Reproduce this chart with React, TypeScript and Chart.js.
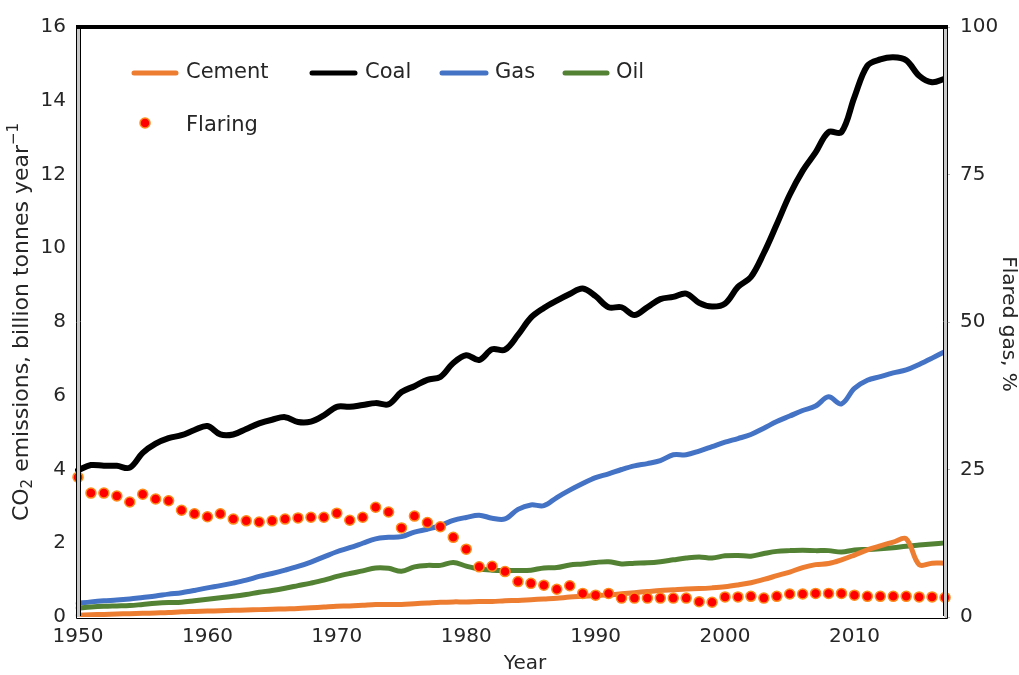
import React, { useEffect, useRef } from "react";
import { Chart, registerables } from "chart.js";
Chart.register(...registerables);

const YEARS = [
  1950, 1951, 1952, 1953, 1954, 1955, 1956, 1957, 1958, 1959,
  1960, 1961, 1962, 1963, 1964, 1965, 1966, 1967, 1968, 1969,
  1970, 1971, 1972, 1973, 1974, 1975, 1976, 1977, 1978, 1979,
  1980, 1981, 1982, 1983, 1984, 1985, 1986, 1987, 1988, 1989,
  1990, 1991, 1992, 1993, 1994, 1995, 1996, 1997, 1998, 1999,
  2000, 2001, 2002, 2003, 2004, 2005, 2006, 2007, 2008, 2009,
  2010, 2011, 2012, 2013, 2014, 2015, 2016, 2017,
];

const CEMENT = [
  0.05, 0.06, 0.07, 0.08, 0.09, 0.10, 0.11, 0.12, 0.14, 0.15,
  0.16, 0.17, 0.18, 0.19, 0.20, 0.21, 0.22, 0.23, 0.25, 0.27,
  0.29, 0.30, 0.32, 0.34, 0.34, 0.34, 0.36, 0.38, 0.40, 0.41,
  0.41, 0.42, 0.42, 0.44, 0.45, 0.47, 0.49, 0.51, 0.54, 0.56,
  0.58, 0.60, 0.63, 0.66, 0.69, 0.72, 0.74, 0.76, 0.77, 0.79,
  0.82, 0.87, 0.93, 1.02, 1.12, 1.22, 1.34, 1.42, 1.45, 1.55,
  1.68, 1.82, 1.93, 2.03, 2.12, 1.42, 1.46, 1.46,
];

const COAL = [
  3.98, 4.12, 4.10, 4.10, 4.05, 4.45, 4.70, 4.85, 4.93, 5.07,
  5.18, 4.95, 4.95, 5.10, 5.25, 5.35, 5.42, 5.29, 5.30, 5.47,
  5.70, 5.70, 5.75, 5.80, 5.77, 6.10, 6.26, 6.43, 6.51, 6.89,
  7.10, 6.97, 7.26, 7.25, 7.65, 8.12, 8.38, 8.58, 8.76, 8.91,
  8.70, 8.40, 8.40, 8.19, 8.40, 8.62, 8.68, 8.77, 8.52, 8.42,
  8.50, 8.95, 9.22, 9.87, 10.65, 11.45, 12.10, 12.60, 13.15, 13.15,
  14.10, 14.95, 15.12, 15.18, 15.10, 14.68, 14.50, 14.60,
];

const GAS = [
  0.37, 0.41, 0.44, 0.46, 0.49, 0.53, 0.57, 0.62, 0.66, 0.72,
  0.79, 0.85, 0.92, 1.00, 1.10, 1.18, 1.27, 1.37, 1.49, 1.63,
  1.77, 1.88, 2.00, 2.12, 2.16, 2.18, 2.30, 2.38, 2.48, 2.62,
  2.70, 2.76, 2.68, 2.66, 2.92, 3.04, 3.02, 3.24, 3.44, 3.62,
  3.78, 3.88, 4.00, 4.10, 4.16, 4.24, 4.40, 4.40, 4.50, 4.62,
  4.74, 4.84, 4.95, 5.12, 5.30, 5.45, 5.60, 5.72, 5.97, 5.78,
  6.20, 6.42, 6.52, 6.62, 6.70, 6.85, 7.02, 7.20,
];

const OIL = [
  0.24, 0.27, 0.29, 0.30, 0.31, 0.34, 0.37, 0.39, 0.40, 0.44,
  0.48, 0.52, 0.56, 0.61, 0.67, 0.72, 0.78, 0.85, 0.92, 1.00,
  1.10, 1.18, 1.25, 1.33, 1.32, 1.24, 1.36, 1.40, 1.40, 1.48,
  1.38, 1.30, 1.27, 1.26, 1.26, 1.27, 1.33, 1.34, 1.41, 1.44,
  1.48, 1.50, 1.44, 1.46, 1.47, 1.50, 1.55, 1.60, 1.63, 1.60,
  1.66, 1.67, 1.65, 1.72, 1.78, 1.80, 1.81, 1.80, 1.80, 1.76,
  1.82, 1.83, 1.85, 1.88, 1.92, 1.95, 1.98, 2.01,
];

const FLARING = [
  23.7, 21.0, 21.0, 20.5, 19.5, 20.8, 20.0, 19.7, 18.1, 17.5,
  17.0, 17.5, 16.6, 16.3, 16.1, 16.3, 16.6, 16.8, 16.9, 16.9,
  17.6, 16.4, 16.9, 18.6, 17.8, 15.1, 17.1, 16.0, 15.3, 13.5,
  11.5, 8.5, 8.6, 7.7, 6.0, 5.7, 5.4, 4.7, 5.3, 4.0,
  3.7, 4.0, 3.2, 3.2, 3.2, 3.2, 3.2, 3.2, 2.6, 2.5,
  3.4, 3.4, 3.5, 3.2, 3.5, 3.9, 3.9, 4.0, 4.0, 4.0,
  3.7, 3.5, 3.5, 3.5, 3.5, 3.4, 3.4, 3.3,
];

const X_TICK_YEARS = [1950, 1960, 1970, 1980, 1990, 2000, 2010];
const LEFT_MAX = 16;
const LEFT_STEP = 2;
const RIGHT_MAX = 100;
const RIGHT_STEP = 25;

const FONT = '"DejaVu Sans", Verdana, sans-serif';
const TEXT = "#262626";
const C_CEMENT = "#ED7D31";
const C_COAL = "#000000";
const C_GAS = "#4472C4";
const C_OIL = "#548235";
const C_FLARE = "#FF0000";
const C_FLARE_EDGE = "#FF8C1A";

export default function App() {
  const ref = useRef<HTMLCanvasElement>(null);

  useEffect(() => {
    document.body.style.margin = "0";
    const canvas = ref.current!;

    const overlay = {
      id: "overlay",
      afterDraw(chart: any) {
        const ctx = chart.ctx as CanvasRenderingContext2D;
        const a = chart.chartArea;
        ctx.save();
        // frame
        ctx.fillStyle = "#c8c8c8";
        ctx.fillRect(a.left - 1, a.top, 3, a.bottom - a.top);
        ctx.fillRect(a.right - 1, a.top, 3, a.bottom - a.top);
        ctx.strokeStyle = "#000";
        ctx.lineWidth = 1;
        ctx.beginPath();
        ctx.moveTo(a.left - 1.5, a.top);
        ctx.lineTo(a.left - 1.5, a.bottom + 1.5);
        ctx.lineTo(a.right + 2.5, a.bottom + 1.5);
        ctx.lineTo(a.right + 2.5, a.top);
        ctx.moveTo(a.left + 2.5, a.top);
        ctx.lineTo(a.left + 2.5, a.bottom - 1);
        ctx.moveTo(a.right - 1.5, a.top);
        ctx.lineTo(a.right - 1.5, a.bottom - 1);
        ctx.stroke();
        ctx.lineWidth = 4;
        ctx.beginPath();
        ctx.moveTo(a.left - 2, a.top);
        ctx.lineTo(a.right + 3, a.top);
        ctx.stroke();

        // legend
        ctx.font = `21px ${FONT}`;
        ctx.textBaseline = "middle";
        ctx.textAlign = "left";
        const items = [
          { c: C_CEMENT, x0: 134, x1: 176, tx: 186, label: "Cement" },
          { c: C_COAL, x0: 312, x1: 355, tx: 365, label: "Coal" },
          { c: C_GAS, x0: 442, x1: 486, tx: 495, label: "Gas" },
          { c: C_OIL, x0: 565, x1: 607, tx: 616, label: "Oil" },
        ];
        const ly = 73;
        for (const it of items) {
          ctx.strokeStyle = it.c;
          ctx.lineWidth = 5;
          ctx.lineCap = "round";
          ctx.beginPath();
          ctx.moveTo(it.x0, ly);
          ctx.lineTo(it.x1, ly);
          ctx.stroke();
          ctx.fillStyle = TEXT;
          ctx.fillText(it.label, it.tx, ly);
        }
        ctx.fillStyle = C_FLARE;
        ctx.strokeStyle = C_FLARE_EDGE;
        ctx.lineWidth = 1.5;
        ctx.beginPath();
        ctx.arc(145, 123, 5, 0, Math.PI * 2);
        ctx.fill();
        ctx.stroke();
        ctx.fillStyle = TEXT;
        ctx.fillText("Flaring", 186, 126);

        // left axis title with sub/superscript
        const big = `22px ${FONT}`;
        const small = `15px ${FONT}`;
        const parts = [
          { t: "CO", f: big, dy: 0 },
          { t: "2", f: small, dy: 6 },
          { t: " emissions, billion tonnes year", f: big, dy: 0 },
          { t: "\u22121", f: small, dy: -8 },
        ];
        let total = 0;
        for (const p of parts) {
          ctx.font = p.f;
          total += ctx.measureText(p.t).width;
        }
        ctx.save();
        ctx.translate(22, (a.top + a.bottom) / 2);
        ctx.rotate(-Math.PI / 2);
        ctx.textBaseline = "middle";
        let x = -total / 2;
        for (const p of parts) {
          ctx.font = p.f;
          ctx.fillText(p.t, x, p.dy);
          x += ctx.measureText(p.t).width;
        }
        ctx.restore();

        // right axis title
        ctx.save();
        ctx.font = `20px ${FONT}`;
        ctx.translate(1008, 324);
        ctx.rotate(Math.PI / 2);
        ctx.textAlign = "center";
        ctx.textBaseline = "middle";
        ctx.fillText("Flared gas, %", 0, 0);
        ctx.restore();

        // x title
        ctx.font = `20px ${FONT}`;
        ctx.textAlign = "center";
        ctx.textBaseline = "middle";
        ctx.fillText("Year", 525, 664);
        ctx.restore();
      },
    };

    const lineDs = (label: string, data: number[], color: string, width: number, order: number) => ({
      type: "line" as const,
      label,
      data,
      yAxisID: "y",
      borderColor: color,
      backgroundColor: color,
      borderWidth: width,
      pointRadius: 0,
      tension: 0.35,
      fill: false,
      order,
      borderCapStyle: "round" as const,
      borderJoinStyle: "round" as const,
    });

    const chart = new Chart(canvas, {
      type: "line",
      data: {
        labels: YEARS.map(String),
        datasets: [
          {
            type: "line",
            label: "Flaring",
            data: FLARING,
            yAxisID: "y1",
            showLine: false,
            pointRadius: 5,
            pointBackgroundColor: C_FLARE,
            pointBorderColor: C_FLARE_EDGE,
            pointBorderWidth: 1.5,
            order: 0,
            clip: false,
          } as any,
          lineDs("Cement", CEMENT, C_CEMENT, 5, 1),
          lineDs("Oil", OIL, C_OIL, 5, 2),
          lineDs("Gas", GAS, C_GAS, 5, 3),
          lineDs("Coal", COAL, C_COAL, 6, 4),
        ],
      },
      options: {
        responsive: false,
        animation: false,
        layout: { padding: { top: 27, left: 0, right: 0, bottom: 0 } },
        plugins: { legend: { display: false }, tooltip: { enabled: false } },
        scales: {
          x: {
            type: "category",
            offset: false,
            grid: { display: false, drawTicks: false },
            border: { display: false },
            ticks: {
              autoSkip: false,
              maxRotation: 0,
              minRotation: 0,
              padding: 8,
              color: TEXT,
              font: { family: FONT, size: 20 },
              callback: (_v: any, i: number) =>
                X_TICK_YEARS.includes(YEARS[i]) ? String(YEARS[i]) : null,
            },
            afterFit: (s: any) => {
              s.height = 58;
            },
          },
          y: {
            position: "left",
            min: 0,
            max: LEFT_MAX,
            grid: { display: false, drawTicks: false },
            border: { display: false },
            ticks: {
              stepSize: LEFT_STEP,
              padding: 12,
              color: TEXT,
              font: { family: FONT, size: 20 },
            },
            afterFit: (s: any) => {
              s.width = 78;
            },
          },
          y1: {
            position: "right",
            min: 0,
            max: RIGHT_MAX,
            grid: {
              display: true,
              drawOnChartArea: false,
              drawTicks: true,
              tickLength: 5,
              color: "#bbbbbb",
            },
            border: { display: false },
            ticks: {
              stepSize: RIGHT_STEP,
              padding: 10,
              color: TEXT,
              font: { family: FONT, size: 20 },
            },
            afterFit: (s: any) => {
              s.width = 74;
            },
          },
        },
      } as any,
      plugins: [overlay],
    });
    return () => chart.destroy();
  }, []);

  return (
    <div style={{ width: 1019, height: 675, background: "#fff" }}>
      <canvas ref={ref} width={1019} height={675} style={{ display: "block" }} />
    </div>
  );
}
